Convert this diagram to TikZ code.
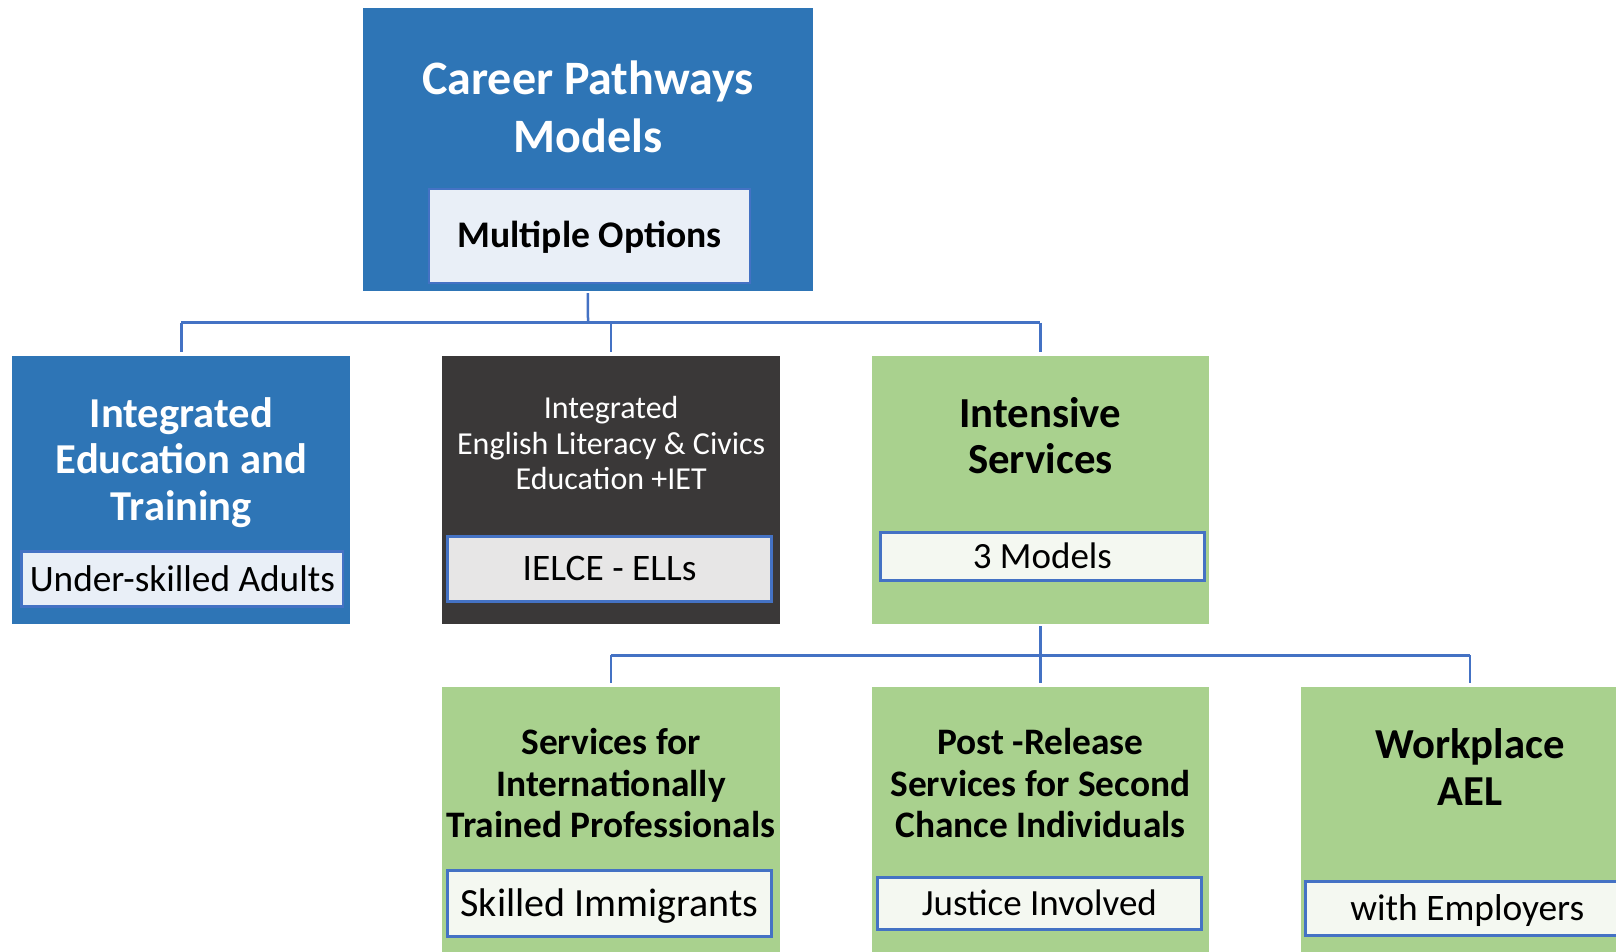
\documentclass[tikz,border=0pt]{standalone}
\usepackage{fontspec}
\setmainfont{Carlito}
\definecolor{cpblue}{HTML}{2E75B6}
\definecolor{cpdark}{HTML}{3A3838}
\definecolor{cpgreen}{HTML}{A9D18E}
\definecolor{cpline}{HTML}{4472C4}
\definecolor{cplightblue}{HTML}{E9EFF7}
\definecolor{cplightgray}{HTML}{E7E6E6}
\definecolor{cplightgreen}{HTML}{F4F8F1}
\newcommand{\mlines}[1]{\begin{tabular}[t]{@{}c@{}}#1\end{tabular}}
\tikzset{
  panel/.style={anchor=north west, inner sep=0pt, outer sep=0pt, draw=none},
  bluepanel/.style={panel, fill=cpblue},
  darkpanel/.style={panel, fill=cpdark},
  greenpanel/.style={panel, fill=cpgreen},
  subbox/.style={anchor=north west, inner sep=0pt, outer sep=0pt, draw=cpline, line width=2.5pt,
     text height=24pt, text depth=0pt, font=\fontsize{37}{44}\selectfont, text=black},
  titletext/.style={anchor=base, inner sep=0pt, outer sep=0pt},
  conn/.style={draw=cpline, line width=2.5pt}
}
\begin{document}
\begin{tikzpicture}[x=1pt,y=-1pt]
\useasboundingbox (0,0) rectangle (1616,952);
\begin{scope}
\clip (0,0) rectangle (1616,952);
% level 0
\node[bluepanel, minimum width=450.3pt, minimum height=282.3pt] (top) at (362.8,8.3) {};
\node[titletext, text=white, font=\bfseries\fontsize{48}{58}\selectfont] (toptxt) at (588,95) {\mlines{Career Pathways\\Models}};
\node[subbox, draw=cpline, line width=2pt, fill=cplightblue, minimum width=321pt, minimum height=93.5pt, font=\bfseries\fontsize{37.6}{44}\selectfont] (mo) at (429,189.2) {Multiple Options};
% level 1
\node[bluepanel, minimum width=338pt, minimum height=268pt] (iet) at (12.4,355.5) {};
\node[titletext, text=white, font=\bfseries\fontsize{42.6}{46.6}\selectfont] (iettxt) at (181.4,427.3) {\mlines{Integrated\\Education and\\Training}};
\node[subbox, fill=cplightblue, minimum width=321.6pt, minimum height=55pt, font=\fontsize{37.3}{44}\selectfont] (usa) at (21.6,551.5) {Under-skilled Adults};

\node[darkpanel, minimum width=338.1pt, minimum height=268pt] (ielce) at (442.1,355.5) {};
\node[titletext, text=white, font=\fontsize{32}{35.5}\selectfont] (ielcetxt) at (611.2,418.8) {\mlines{Integrated\\English Literacy \& Civics\\Education +IET}};
\node[subbox, line width=3pt, fill=cplightgray, minimum width=324.6pt, minimum height=65.5pt, font=\fontsize{37.4}{44}\selectfont] (ells) at (447.3,536) {IELCE - ELLs};

\node[greenpanel, minimum width=337pt, minimum height=268pt] (ints) at (871.9,355.5) {};
\node[titletext, text=black, font=\bfseries\fontsize{42.8}{46}\selectfont] (intstxt) at (1040.4,427.3) {\mlines{Intensive\\Services}};
\node[subbox, line width=3pt, fill=cplightgreen, minimum width=323.3pt, minimum height=48pt] (m3) at (880.7,532.7) {3 Models};
% level 2
\node[greenpanel, minimum width=338pt, minimum height=300pt] (itp) at (442.1,686.8) {};
\node[titletext, text=black, font=\bfseries\fontsize{37.4}{41.6}\selectfont] (itptxt) at (611.1,754.5) {\mlines{Services for\\Internationally\\Trained Professionals}};
\node[subbox, line width=3pt, fill=cplightgreen, minimum width=324.6pt, minimum height=66.5pt, text height=26pt, font=\fontsize{40}{46}\selectfont] (ski) at (447.3,870) {Skilled Immigrants};

\node[greenpanel, minimum width=337pt, minimum height=300pt] (prs) at (871.9,686.8) {};
\node[titletext, text=black, font=\bfseries\fontsize{37.4}{41.6}\selectfont] (prstxt) at (1040.4,754.5) {\mlines{Post -Release\\Services for Second\\Chance Individuals}};
\node[subbox, line width=3pt, fill=cplightgreen, minimum width=324.7pt, minimum height=52pt] (jus) at (877,877.3) {Justice Involved};

\node[greenpanel, minimum width=338pt, minimum height=300pt] (wpl) at (1301,686.8) {};
\node[titletext, text=black, font=\bfseries\fontsize{42.7}{47.4}\selectfont] (wpltxt) at (1470,758.3) {\mlines{Workplace\\AEL}};
\node[subbox, line width=3pt, fill=cplightgreen, minimum width=324.6pt, minimum height=53.3pt, font=\fontsize{37.4}{44}\selectfont] (emp) at (1305,881.7) {with Employers};
% connectors level 0 -> 1
\coordinate (h1) at (588,322.6);
\draw[conn] ([yshift=-2.5pt]top.south) -- (h1);
\draw[conn] (iet.north |- h1) -- (ints.north |- h1);
\draw[conn] (iet.north |- h1) -- ([yshift=3.5pt]iet.north);
\draw[conn] (ielce.north |- h1) -- ([yshift=3.5pt]ielce.north);
\draw[conn] (ints.north |- h1) -- ([yshift=3.5pt]ints.north);
% connectors level 1 -> 2
\coordinate (h2) at (1040.4,655.3);
\draw[conn] ([yshift=-2.5pt]ints.south) -- (h2);
\draw[conn] (itp.north |- h2) -- (wpl.north |- h2);
\draw[conn] (itp.north |- h2) -- ([yshift=3.5pt]itp.north);
\draw[conn] (prs.north |- h2) -- ([yshift=3.5pt]prs.north);
\draw[conn] (wpl.north |- h2) -- ([yshift=3.5pt]wpl.north);
\end{scope}
\end{tikzpicture}
\end{document}
